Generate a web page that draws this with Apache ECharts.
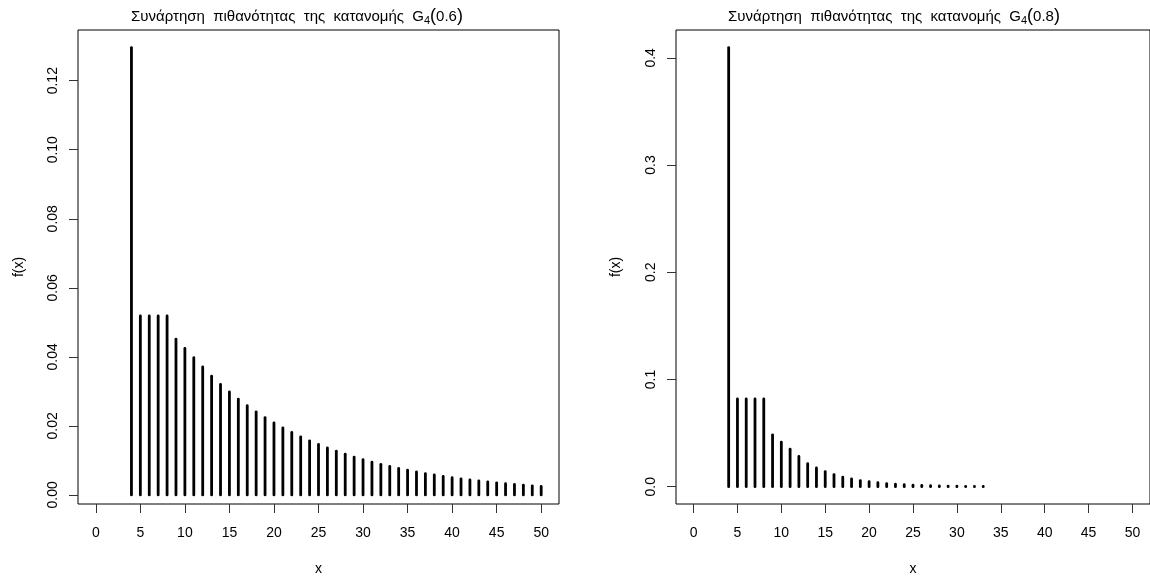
<!DOCTYPE html>
<html>
<head>
<meta charset="utf-8">
<script src="https://cdn.jsdelivr.net/npm/echarts@6/dist/echarts.min.js"></script>
<style>
  html, body { margin: 0; padding: 0; background: #fff; }
  #chart { width: 1150px; height: 581px; }
</style>
</head>
<body>
<div id="chart"></div>
<script>
// Probability function of the geometric distribution of order 4, G4(p)
const xLeft = [4, 5, 6, 7, 8, 9, 10, 11, 12, 13, 14, 15, 16, 17, 18, 19, 20, 21, 22, 23, 24, 25, 26, 27,
  28, 29, 30, 31, 32, 33, 34, 35, 36, 37, 38, 39, 40, 41, 42, 43, 44, 45, 46, 47, 48, 49, 50];
const fLeft = [0.1296, 0.05184, 0.05184, 0.05184, 0.05184, 0.045122, 0.042434, 0.039747, 0.037059,
  0.034372, 0.032033, 0.029833, 0.027773, 0.025851, 0.024070, 0.022409, 0.020862, 0.019423, 0.018083,
  0.016835, 0.015673, 0.014592, 0.013585, 0.012647, 0.011775, 0.010962, 0.010206, 0.009501, 0.008846,
  0.008235, 0.007667, 0.007138, 0.006646, 0.006187, 0.005760, 0.005363, 0.004993, 0.004648, 0.004327,
  0.004029, 0.003751, 0.003492, 0.003251, 0.003027, 0.002818, 0.002623, 0.002442];

const xRight = [4, 5, 6, 7, 8, 9, 10, 11, 12, 13, 14, 15, 16, 17, 18, 19, 20, 21, 22, 23, 24, 25, 26,
  27, 28, 29, 30, 31, 32, 33];
const fRight = [0.4096, 0.08192, 0.08192, 0.08192, 0.08192, 0.048366, 0.041655, 0.034944, 0.028233,
  0.021522, 0.017560, 0.014148, 0.011285, 0.008972, 0.007209, 0.005770, 0.004611, 0.003687, 0.002952,
  0.002361, 0.001889, 0.001511, 0.001209, 0.000967, 0.000774, 0.000619, 0.000495, 0.000396, 0.000317,
  0.000254];

const xTicks = [0, 5, 10, 15, 20, 25, 30, 35, 40, 45, 50];
const yTicksLeft = [0, 0.02, 0.04, 0.06, 0.08, 0.10, 0.12];
const yTicksRight = [0, 0.1, 0.2, 0.3, 0.4];

const titleText = 'Συνάρτηση  πιθανότητας  της  κατανομής  ';
const paramLeft = '0.6';
const paramRight = '0.8';

const FONT = '"Liberation Sans", Arial, Helvetica, sans-serif';

const chart = echarts.init(document.getElementById('chart'), null, { renderer: 'canvas' });

// vertical spike from 0 up to f(x)
function spikes(params, api) {
  const p0 = api.coord([api.value(0), 0]);
  const p1 = api.coord([api.value(0), api.value(1)]);
  return {
    type: 'line',
    shape: { x1: p0[0], y1: p0[1], x2: p1[0], y2: p1[1] },
    style: { stroke: '#000', lineWidth: 2.8, lineCap: 'round' }
  };
}

function xAxisCfg(gridIndex) {
  return {
    type: 'value', gridIndex, min: -2, max: 52,
    name: 'x', nameLocation: 'middle', nameGap: 58,
    nameTextStyle: { color: '#000', fontSize: 14, fontFamily: FONT },
    axisLine: { show: false, onZero: false },
    axisTick: { show: true, inside: false, length: 9, customValues: xTicks,
      lineStyle: { color: '#333', width: 1 } },
    axisLabel: { customValues: xTicks, margin: 22, color: '#000', fontSize: 14, fontFamily: FONT },
    splitLine: { show: false }
  };
}

function yAxisCfg(gridIndex, min, max, ticks, digits, nameGap) {
  return {
    type: 'value', gridIndex, min, max,
    name: 'f(x)', nameLocation: 'middle', nameGap, nameRotate: 90,
    nameTextStyle: { color: '#000', fontSize: 14, fontFamily: FONT },
    axisLine: { show: false, onZero: false },
    axisTick: { show: true, length: 9, customValues: ticks, lineStyle: { color: '#333', width: 1 } },
    axisLabel: { customValues: ticks, rotate: 90, margin: 18, color: '#000', fontSize: 14,
      fontFamily: FONT, formatter: v => v.toFixed(digits) },
    splitLine: { show: false }
  };
}

function titleCfg(param, left) {
  return {
    text: titleText + '{g|G}{s|4}{p|(}{n|' + param + '}{p|)}',
    left, top: 2,
    textStyle: {
      color: '#000', fontSize: 15, fontWeight: 'normal', fontFamily: FONT,
      rich: {
        g: { fontSize: 15, fontFamily: FONT, color: '#000' },
        s: { fontSize: 11, fontFamily: FONT, color: '#000', verticalAlign: 'bottom', padding: [8, 0, 0, 0] },
        p: { fontSize: 18, fontFamily: FONT, color: '#000' },
        n: { fontSize: 15, fontFamily: FONT, color: '#000' }
      }
    }
  };
}

chart.setOption({
  backgroundColor: '#fff',
  animation: false,
  title: [titleCfg(paramLeft, 126), titleCfg(paramRight, 723)],
  grid: [
    { left: 78, right: 591, top: 30, bottom: 73, show: true, borderColor: '#000', borderWidth: 1,
      backgroundColor: 'transparent' },
    { left: 676, right: -6, top: 30, bottom: 73, show: true, borderColor: '#000', borderWidth: 1,
      backgroundColor: 'transparent' }
  ],
  xAxis: [xAxisCfg(0), xAxisCfg(1)],
  yAxis: [
    yAxisCfg(0, -0.00264, 0.13469, yTicksLeft, 2, 52),
    yAxisCfg(1, -0.01612, 0.42597, yTicksRight, 1, 53)
  ],
  series: [
    { type: 'custom', xAxisIndex: 0, yAxisIndex: 0, renderItem: spikes,
      data: xLeft.map((x, i) => [x, fLeft[i]]) },
    { type: 'custom', xAxisIndex: 1, yAxisIndex: 1, renderItem: spikes,
      data: xRight.map((x, i) => [x, fRight[i]]) }
  ]
});
</script>
</body>
</html>
